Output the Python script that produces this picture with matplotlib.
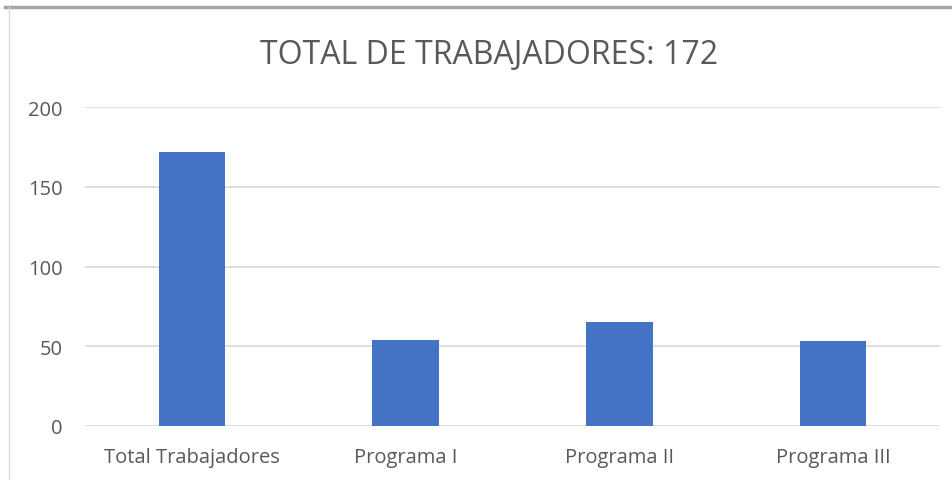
import matplotlib
matplotlib.use("Agg")
import matplotlib.pyplot as plt
from matplotlib.lines import Line2D

# Datos del gráfico
categorias = ["Total Trabajadores", "Programa I", "Programa II", "Programa III"]
valores = [172, 54, 65, 53]
titulo = "TOTAL DE TRABAJADORES: 172"

plt.rcParams['font.family'] = ['Open Sans', 'DejaVu Sans']

fig = plt.figure(figsize=(9.53, 4.81), dpi=100)
ax = fig.add_axes([85 / 953, 1 - 427 / 481, 855 / 953, 319 / 481])

x = range(len(categorias))
ax.bar(x, valores, width=0.31, color="#4472C4", zorder=3)

ax.set_xlim(-0.5, 3.5)
ax.set_ylim(0, 200)
ax.set_yticks([0, 50, 100, 150, 200])
ax.set_xticks(list(x))
ax.set_xticklabels(categorias)
ax.grid(axis="y", color="#d9d9d9", linewidth=1.2, zorder=0)
for s in ax.spines.values():
    s.set_visible(False)
ax.tick_params(axis="both", length=0, labelsize=14.5, colors="#595959")
ax.tick_params(axis="x", pad=15)
ax.tick_params(axis="y", pad=16)

fig.text(489 / 953, 1 - 55 / 481, titulo, ha="center", va="center",
         fontsize=23, color="#595959")

# borde del área del gráfico
fig.add_artist(Line2D([5 / 953, 1], [1 - 8 / 481, 1 - 8 / 481],
                      transform=fig.transFigure, color="#a6a6a6", linewidth=2.5))
fig.add_artist(Line2D([9 / 953, 9 / 953], [0, 1 - 8 / 481],
                      transform=fig.transFigure, color="#d9d9d9", linewidth=1))

fig.savefig("out.png", dpi=100)
